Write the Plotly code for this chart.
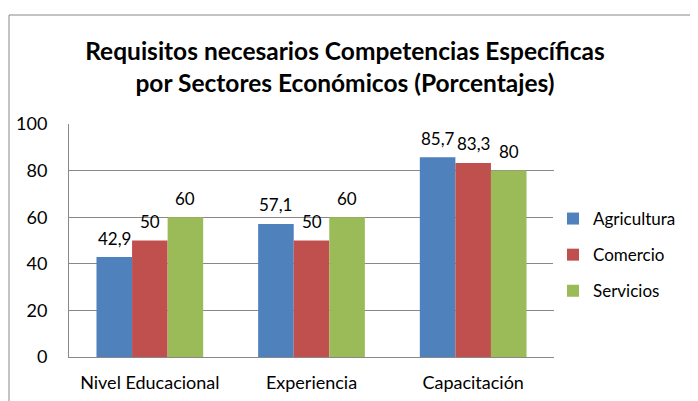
import plotly.graph_objects as go

categories = ["Nivel Educacional", "Experiencia", "Capacitación"]
agricultura = [42.9, 57.1, 85.7]
comercio = [50, 50, 83.3]
servicios = [60, 60, 80]
series_names = ["Agricultura", "Comercio", "Servicios"]
series_colors = ["#4F81BD", "#C0504D", "#9BBB59"]
y_ticks = [0, 20, 40, 60, 80, 100]

FONT = "Lato, Carlito, Calibri, sans-serif"
FS = 18

# page has an 8px body margin; size the figure to the visible area
W, H = 690, 393
L, T = 61, 116
R, B = 144, 44
pw, ph = W - L - R, H - T - B
BARGAP = 0.34
bar_px = pw / len(categories) * (1 - BARGAP) / len(series_names)

series_values = [agricultura, comercio, servicios]

fig = go.Figure()
annotations = []
for i, (name, vals, col) in enumerate(zip(series_names, series_values, series_colors)):
    fig.add_trace(go.Bar(
        x=categories, y=vals, name=name, marker_color=col,
        marker_line_width=0, legendgroup=name,
    ))
    for c, v in zip(categories, vals):
        annotations.append(dict(
            x=c, y=v, xref="x", yref="y",
            text=(f"{v:g}").replace(".", ","), showarrow=False,
            xanchor="center", yanchor="middle",
            xshift=(i - 1) * bar_px, yshift=19,
            font=dict(size=17, family=FONT, color="#000000"),
        ))

bx = (1 - L) / pw
by = (H - B - 7) / ph

fig.update_layout(
    width=W, height=H,
    margin=dict(l=L, r=R, t=T, b=B, autoexpand=False),
    paper_bgcolor="white", plot_bgcolor="white",
    barmode="group", bargap=BARGAP, bargroupgap=0,
    font=dict(family=FONT, size=FS, color="#000000"),
    title=dict(
        text="<b>Requisitos necesarios Competencias Específicas<br>por Sectores Económicos (Porcentajes)</b>",
        x=337 / W, xref="container", xanchor="center",
        y=1 - 52 / H, yanchor="middle",
        font=dict(size=24.5, family=FONT, color="#000000"),
    ),
    legend=dict(
        x=(545 - L) / pw, xanchor="left", y=(H - B - 247) / ph, yanchor="middle",
        font=dict(size=17, family=FONT),
        tracegroupgap=11, traceorder="grouped",
        itemwidth=30,
    ),
    xaxis=dict(
        showline=True, linecolor="#888888", linewidth=1,
        ticks="", tickfont=dict(size=FS), showgrid=False,
        ticklabelstandoff=9, automargin=False,
    ),
    yaxis=dict(
        range=[0, 100], tickvals=y_ticks, ticks="",
        showline=True, linecolor="#888888", linewidth=1,
        showgrid=True, gridcolor="#888888", gridwidth=1,
        tickfont=dict(size=FS), zeroline=False,
        ticklabelstandoff=17, automargin=False,
    ),
    annotations=annotations,
    shapes=[
        dict(type="line", xref="paper", yref="paper", x0=bx, x1=bx, y0=-1, y1=by,
             line=dict(color="#888888", width=1)),
        dict(type="line", xref="paper", yref="paper", x0=bx, x1=3, y0=by, y1=by,
             line=dict(color="#888888", width=1)),
    ],
)

fig.write_html("out.html")
